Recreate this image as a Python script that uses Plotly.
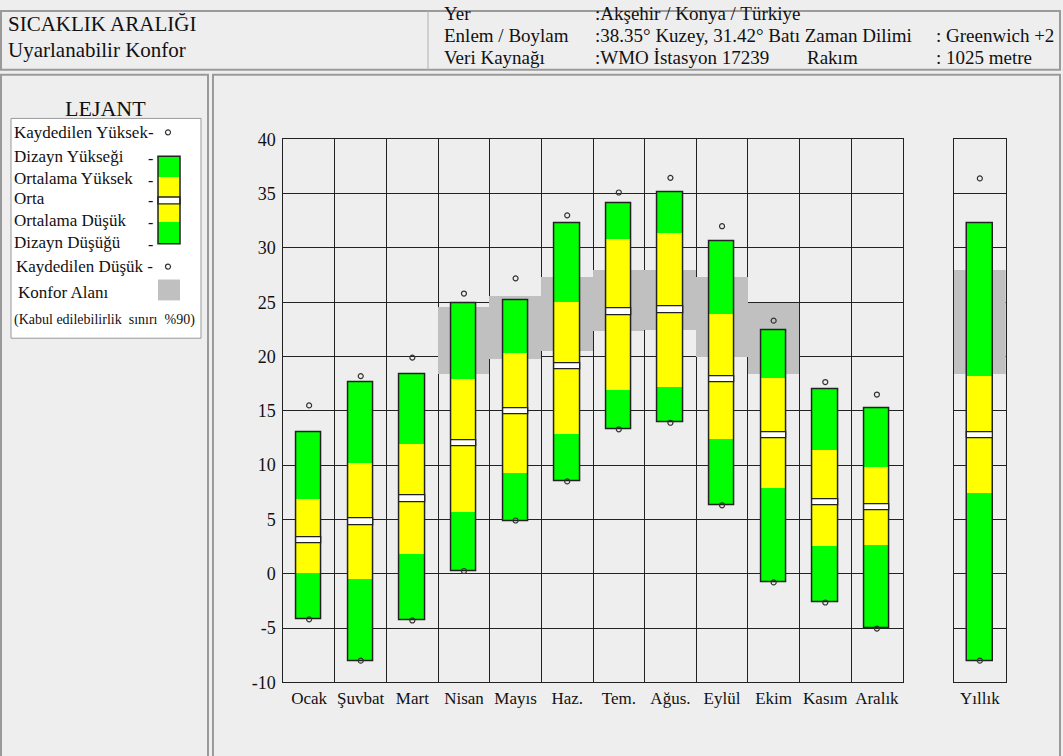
import plotly.graph_objects as go

# ------------------------------------------------------------------
# Data (°C)
# ------------------------------------------------------------------

months = ["Ocak", "Şuvbat", "Mart", "Nisan", "Mayıs", "Haz.",
          "Tem.", "Ağus.", "Eylül", "Ekim", "Kasım", "Aralık"]

rec_high = [15.5, 18.2, 19.9, 25.8, 27.2, 33.0, 35.1, 36.45, 32.0, 23.3, 17.65, 16.5]
design_high = [13.0, 17.65, 18.35, 24.9, 25.15, 32.3, 34.15, 35.15, 30.65, 22.4, 17.0, 15.25]
avg_high = [6.85, 10.2, 11.95, 17.9, 20.3, 25.0, 30.8, 31.35, 23.9, 18.0, 11.35, 9.8]
mid = [3.1, 4.8, 6.9, 12.0, 14.95, 19.1, 24.1, 24.3, 17.9, 12.75, 6.6, 6.1]
avg_low = [0.0, -0.55, 1.75, 5.65, 9.25, 12.8, 16.85, 17.15, 12.4, 7.85, 2.5, 2.6]
design_low = [-4.2, -8.05, -4.3, 0.25, 4.85, 8.5, 13.3, 13.9, 6.3, -0.8, -2.65, -5.05]
rec_low = [-4.2, -8.0, -4.3, 0.25, 4.9, 8.5, 13.3, 13.9, 6.3, -0.8, -2.65, -5.05]

comfort_high = [None, None, None, 24.55, 25.5, 27.3, 27.9, 27.9, 27.3, 24.9, None, None]
comfort_low = [None, None, None, 18.4, 19.7, 20.5, 22.3, 22.4, 19.9, 18.4, None, None]

year_label = ["Yıllık"]
year_rec_high = [36.4]
year_design_high = [32.3]
year_avg_high = [18.2]
year_mid = [12.75]
year_avg_low = [7.4]
year_design_low = [-8.05]
year_rec_low = [-8.0]
year_comfort_high = [27.9]
year_comfort_low = [18.4]

y_ticks = [-10, -5, 0, 5, 10, 15, 20, 25, 30, 35, 40]

# ------------------------------------------------------------------
# Style
# ------------------------------------------------------------------

W, H = 1063, 756
# the page ends up drawing the figure ~740px tall starting 8px down,
# so pixel positions below are mapped through that
OY, HE = 8, 740
FONT = "Liberation Serif, Times New Roman, serif"
BG = "#EEEEEE"
GREEN = "#00FF00"
YELLOW = "#FFFF00"
GREY = "#C0C0C0"
LINE = "#222222"
BAR_W = 0.49
MID_HALF = 0.3


def px(x):
    return x / W


def py(y):
    return 1 - (y - OY) / HE


def diff(hi, lo):
    return [None if h is None else h - l for h, l in zip(hi, lo)]


def add_column_traces(fig, x, c_hi, c_lo, d_hi, a_hi, m, a_lo, d_lo, r_hi, r_lo, xaxis, yaxis):
    common = dict(x=x, xaxis=xaxis, yaxis=yaxis, showlegend=False, hoverinfo="skip")
    # comfort zone
    fig.add_trace(go.Bar(base=c_lo, y=diff(c_hi, c_lo), width=1.0,
                         marker=dict(color=GREY, line=dict(width=0)), **common))
    # lower green
    fig.add_trace(go.Bar(base=d_lo, y=diff(a_lo, d_lo), width=BAR_W,
                         marker=dict(color=GREEN, line=dict(width=0)), **common))
    # yellow
    fig.add_trace(go.Bar(base=a_lo, y=diff(a_hi, a_lo), width=BAR_W,
                         marker=dict(color=YELLOW, line=dict(width=0)), **common))
    # upper green
    fig.add_trace(go.Bar(base=a_hi, y=diff(d_hi, a_hi), width=BAR_W,
                         marker=dict(color=GREEN, line=dict(width=0)), **common))
    # outline
    fig.add_trace(go.Bar(base=d_lo, y=diff(d_hi, d_lo), width=BAR_W,
                         marker=dict(color="rgba(0,0,0,0)", line=dict(color=LINE, width=1.5)),
                         **common))
    # mean band
    fig.add_trace(go.Bar(base=[v - MID_HALF for v in m], y=[2 * MID_HALF] * len(m), width=BAR_W,
                         marker=dict(color="white", line=dict(color=LINE, width=1.3)), **common))
    # recorded extremes
    fig.add_trace(go.Scatter(y=r_hi + r_lo, x=x + x, xaxis=xaxis, yaxis=yaxis, mode="markers",
                             showlegend=False, hoverinfo="skip",
                             marker=dict(symbol="circle-open", size=5, color="#333333",
                                         line=dict(width=1.2))))


fig = go.Figure()

add_column_traces(fig, months, comfort_high, comfort_low, design_high, avg_high, mid,
                  avg_low, design_low, rec_high, rec_low, "x", "y")
add_column_traces(fig, year_label, year_comfort_high, year_comfort_low, year_design_high,
                  year_avg_high, year_mid, year_avg_low, year_design_low, year_rec_high,
                  year_rec_low, "x2", "y2")

# ------------------------------------------------------------------
# Frame, header and legend panel
# ------------------------------------------------------------------

shapes = []


def rect(x0, y0, x1, y1, fill=None, line="#999999", width=1):
    shapes.append(dict(type="rect", xref="paper", yref="paper",
                       x0=px(x0), x1=px(x1), y0=py(y1), y1=py(y0),
                       fillcolor=fill if fill else "rgba(0,0,0,0)",
                       line=dict(color=line, width=width), layer="below"))


# header
rect(1, 9, 1060, 68, fill=BG, line="#9A9A9A", width=2)
shapes.append(dict(type="line", xref="paper", yref="paper", x0=px(428), x1=px(428),
                   y0=py(68), y1=py(9), line=dict(color="#B0B0B0", width=1)))
# panels
rect(1, 73, 208, 770, fill=BG, line="#9A9A9A", width=2)
rect(213, 73, 1060, 770, fill=BG, line="#9A9A9A", width=2)

# legend box
rect(11, 117, 201, 338, fill="white", line="#999999", width=1)


def legend_box(x0, y0, x1, y1, fill, line_w=0):
    shapes.append(dict(type="rect", xref="paper", yref="paper",
                       x0=px(x0), x1=px(x1), y0=py(y1), y1=py(y0),
                       fillcolor=fill, line=dict(color=LINE, width=line_w)))


def legend_circle(x, y, r=2.5):
    shapes.append(dict(type="circle", xref="paper", yref="paper",
                       x0=px(x - r), x1=px(x + r), y0=py(y + r), y1=py(y - r),
                       fillcolor="white", line=dict(color="#333333", width=1.2)))


legend_box(158, 155, 180, 176, GREEN)
legend_box(158, 176, 180, 221, YELLOW)
legend_box(158, 221, 180, 243, GREEN)
legend_box(158, 196, 180, 203, "white", 1.3)
legend_box(158, 155, 180, 243, "rgba(0,0,0,0)", 1.5)
legend_box(158, 279, 180, 300, GREY)
legend_circle(168, 131)
legend_circle(168, 266)

annotations = []


def text(x, y, s, size=16, anchor="left"):
    annotations.append(dict(x=px(x), y=py(y), xref="paper", yref="paper", text=s,
                            showarrow=False, xanchor=anchor, yanchor="middle",
                            font=dict(family=FONT, size=size, color="#111111")))


# header text
text(6, 22, "SICAKLIK ARALIĞI", size=21)
text(6, 48, "Uyarlanabilir Konfor", size=21)
text(442, 12, "Yer", size=19)
text(442, 34, "Enlem / Boylam", size=19)
text(442, 56, "Veri Kaynağı", size=19)
text(593, 12, ":Akşehir / Konya / Türkiye", size=19)
text(593, 34, ":38.35° Kuzey, 31.42° Batı Zaman Dilimi", size=19)
text(593, 56, ":WMO İstasyon 17239", size=19)
text(805, 56, "Rakım", size=19)
text(934, 34, ": Greenwich +2", size=19)
text(934, 56, ": 1025 metre", size=19)

# legend text
text(105, 107, "LEJANT", size=22, anchor="center")
text(12, 131, "Kaydedilen Yüksek-", size=17)
text(12, 155, "Dizayn Yükseği", size=17)
text(12, 177, "Ortalama Yüksek", size=17)
text(12, 198, "Orta", size=17)
text(12, 220, "Ortalama Düşük", size=17)
text(12, 242, "Dizayn Düşüğü", size=17)
text(14, 266, "Kaydedilen Düşük -", size=17)
text(16, 292, "Konfor Alanı", size=17)
text(12, 320, "(Kabul edilebilirlik  sınırı  %90)", size=14)
for yy in (155, 177, 198, 220, 242):
    text(146, yy + 2, "-", size=16)

# ------------------------------------------------------------------
# Axes
# ------------------------------------------------------------------

x_font = dict(family=FONT, size=17, color="#111111")
y_font = dict(family=FONT, size=18, color="#111111")
frame = dict(showline=True, linecolor=LINE, linewidth=1, mirror=True, ticks="")
y_domain = [py(684), py(138)]

fig.update_layout(
    width=W,
    height=H,
    autosize=False,
    margin=dict(l=0, r=0, t=0, b=0),
    paper_bgcolor=BG,
    plot_bgcolor="white",
    barmode="overlay",
    bargap=0,
    showlegend=False,
    shapes=shapes,
    annotations=annotations,
    xaxis=dict(
        domain=[px(283.3), px(902.7)],
        type="category",
        categoryorder="array",
        categoryarray=months,
        range=[-0.5, 11.5],
        tickson="boundaries",
        showgrid=True,
        gridcolor=LINE,
        gridwidth=1,
        tickangle=0,
        tickfont=x_font,
        anchor="y",
        **frame,
    ),
    xaxis2=dict(
        domain=[px(954), px(1005.7)],
        type="category",
        range=[-0.5, 0.5],
        showgrid=False,
        tickangle=0,
        tickfont=x_font,
        anchor="y2",
        **frame,
    ),
    yaxis=dict(
        domain=y_domain,
        range=[-10, 40],
        tickvals=y_ticks,
        ticktext=[str(v) for v in y_ticks],
        showgrid=True,
        gridcolor=LINE,
        gridwidth=1,
        zeroline=False,
        tickfont=y_font,
        ticklabelstandoff=3,
        anchor="x",
        **frame,
    ),
    yaxis2=dict(
        domain=y_domain,
        range=[-10, 40],
        matches="y",
        tickvals=y_ticks,
        showticklabels=False,
        showgrid=True,
        gridcolor=LINE,
        gridwidth=1,
        zeroline=False,
        anchor="x2",
        **frame,
    ),
)

fig.write_html(
    "out.html",
    config={"responsive": False, "displayModeBar": False},
    post_script=(
        "document.body.style.margin='0';"
        "document.body.style.overflow='hidden';"
        "document.body.style.background='#EEEEEE';"
    ),
)
